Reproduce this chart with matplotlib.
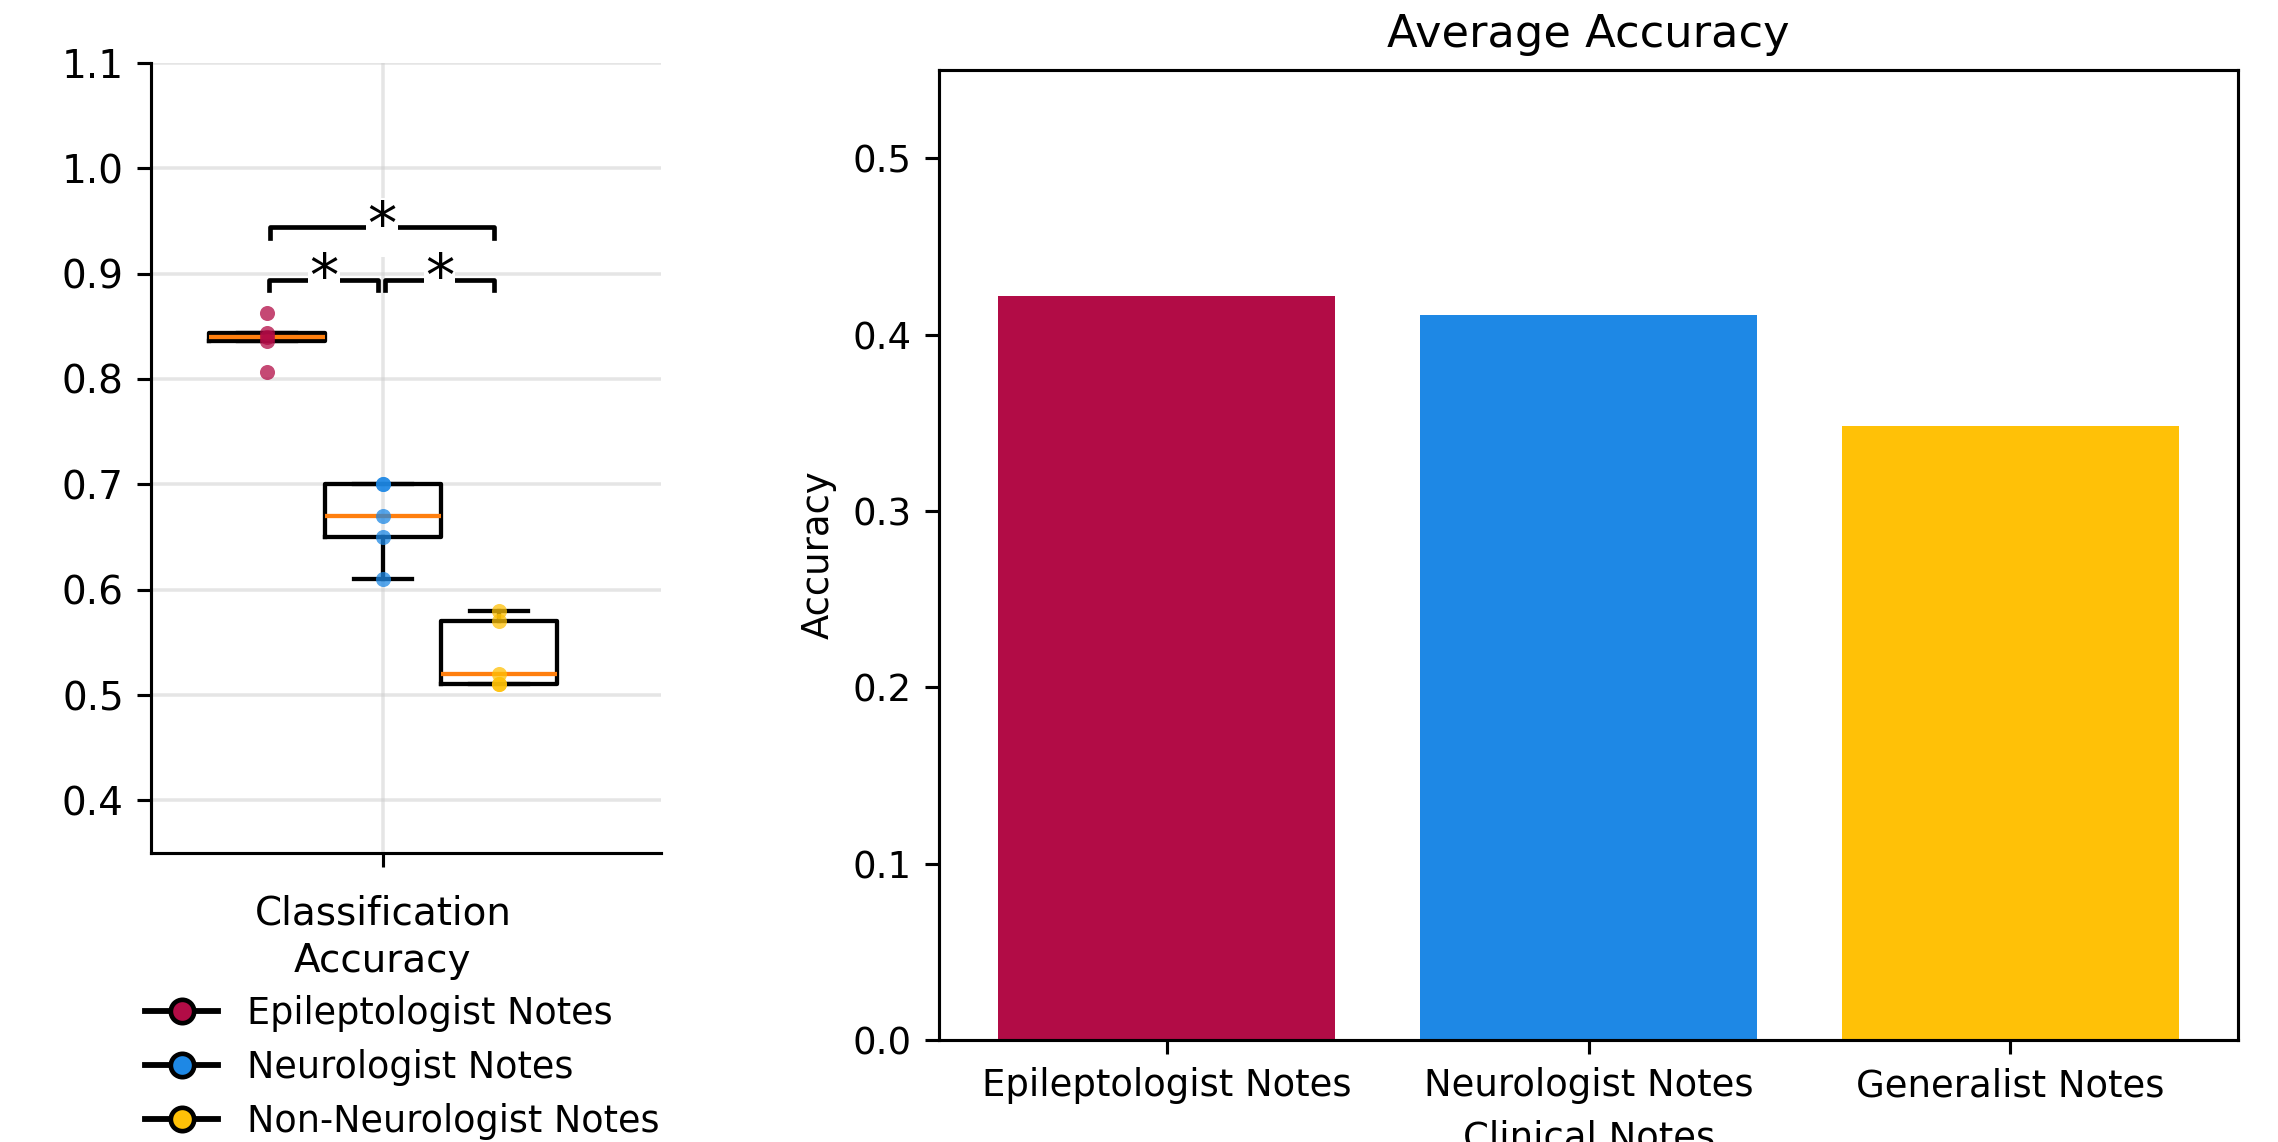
import numpy as np
import matplotlib
matplotlib.use("Agg")
import matplotlib.pyplot as plt
from matplotlib.lines import Line2D

# Per-fold classification accuracy for each note type
groups = ["Epileptologist Notes", "Neurologist Notes", "Non-Neurologist Notes"]
epileptologist_acc = [0.863, 0.844, 0.840, 0.836, 0.807]
neurologist_acc = [0.70, 0.70, 0.67, 0.65, 0.61]
non_neurologist_acc = [0.58, 0.57, 0.52, 0.51, 0.51]
colors = ["#B20C46", "#1E88E5", "#FFC107"]

# Significance brackets: (left x, right x, height)
sig_pairs = [(0.755, 0.99, 0.894), (1.005, 1.24, 0.894), (0.757, 1.239, 0.944)]
sig_labels = ["*", "*", "*"]

# Average accuracy bar chart
bar_labels = ["Epileptologist Notes", "Neurologist Notes", "Generalist Notes"]
bar_values = [0.422, 0.411, 0.348]

fig = plt.figure(figsize=(2278 / 280, 1142 / 280), dpi=280)

# Box plot panel
ax1 = fig.add_axes([0.0663, 0.253, 0.2239, 0.692])
data = [epileptologist_acc, neurologist_acc, non_neurologist_acc]
positions = [0.75, 1.0, 1.25]
ax1.boxplot(data, positions=positions, widths=0.25, showfliers=False,
            medianprops=dict(color="#ff7f0e", linewidth=1.1),
            boxprops=dict(linewidth=1.1), whiskerprops=dict(linewidth=1.1),
            capprops=dict(linewidth=1.1))
for pos, vals, c in zip(positions, data, colors):
    ax1.scatter([pos] * len(vals), vals, color=c, alpha=0.75, s=15, zorder=3,
                linewidths=0)

# Draw significance brackets
for (x1, x2, y), lab in zip(sig_pairs, sig_labels):
    ax1.plot([x1, x1, x2, x2], [y - 0.01, y, y, y - 0.01], color="black",
             linewidth=1.2, zorder=4)
    ax1.text((x1 + x2) / 2, y, lab, ha="center", va="center", fontsize=15,
             zorder=5, bbox=dict(facecolor="white", edgecolor="none", pad=0.3))

ax1.set_xlim(0.5, 1.6)
ax1.set_ylim(0.35, 1.1)
ax1.set_yticks(np.arange(0.4, 1.11, 0.1))
ax1.set_xticks([1.0])
ax1.set_xticklabels(["Classification\nAccuracy"], fontsize=10,
                    multialignment="center", linespacing=1.3)
ax1.tick_params(axis="x", pad=7.2)
ax1.tick_params(axis="y", labelsize=10)
ax1.grid(True, color="#cccccc", alpha=0.5, linewidth=0.9)
ax1.set_axisbelow(True)
ax1.spines["top"].set_visible(False)
ax1.spines["right"].set_visible(False)

handles = [Line2D([0], [0], color="black", linewidth=1.5, marker="o",
                  markersize=6, markerfacecolor=c, markeredgecolor="black",
                  markeredgewidth=1.2) for c in colors]
fig.legend(handles, groups, loc="upper left", bbox_to_anchor=(0.0637, 0.129),
           frameon=False, fontsize=9.4, borderpad=0, borderaxespad=0,
           labelspacing=0.47)

# Bar chart panel
ax2 = fig.add_axes([0.4122, 0.0893, 0.5703, 0.8494])
ax2.bar(bar_labels, bar_values, color=colors, width=0.8)
ax2.set_ylim(0, 0.55)
ax2.set_title("Average Accuracy", fontsize=11.5)
ax2.set_ylabel("Accuracy", fontsize=9.5)
ax2.set_xlabel("Clinical Notes", fontsize=9.5)
ax2.tick_params(labelsize=9.5)

fig.savefig("out.png", dpi=280)
